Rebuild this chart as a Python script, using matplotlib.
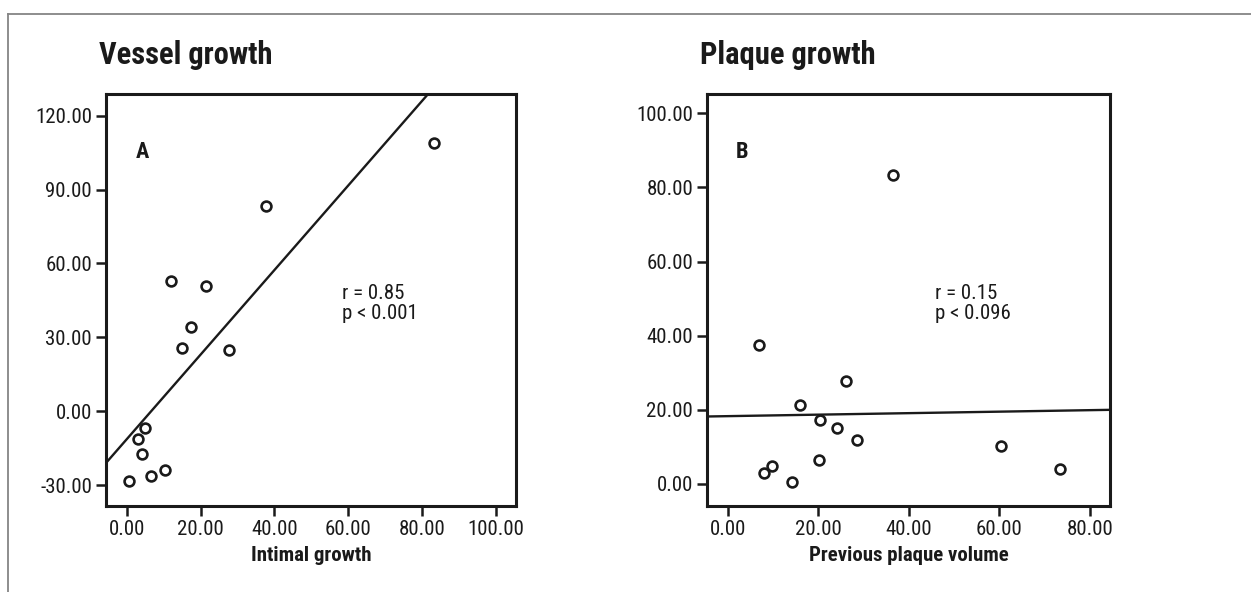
import numpy as np
import matplotlib
matplotlib.use("Agg")
import matplotlib.pyplot as plt
from matplotlib.lines import Line2D
import logging
logging.getLogger('matplotlib.font_manager').setLevel(logging.ERROR)

plt.rcParams['font.family'] = ['Roboto Condensed', 'Archivo Narrow', 'PT Sans Narrow',
                               'Liberation Sans Narrow', 'Barlow Semi Condensed', 'Liberation Sans']

# Panel A: Vessel growth vs Intimal growth
intimal_growth = [83.2, 37.6, 12.0, 21.5, 17.3, 15.0, 27.8, 5.0, 3.1, 4.1, 10.3, 6.5, 0.5]
vessel_growth = [108.9, 83.2, 52.7, 50.8, 34.3, 25.5, 24.9, -7.0, -11.4, -17.4, -24.0, -26.4, -28.4]
fit_a = (1.718, -11.4)  # slope, intercept as drawn

# Panel B: Plaque growth vs Previous plaque volume
prev_plaque = [36.5, 6.9, 26.1, 15.9, 20.4, 24.1, 28.5, 20.2, 9.7, 8.1, 14.3, 60.4, 73.4]
plaque_growth = [83.3, 37.6, 27.8, 21.3, 17.3, 15.1, 11.9, 6.4, 4.9, 2.9, 0.5, 10.2, 4.0]
fit_b = (0.0202, 18.29)

xticks_a = [0, 20, 40, 60, 80, 100]
yticks_a = [-30, 0, 30, 60, 90, 120]
xticks_b = [0, 20, 40, 60, 80]
yticks_b = [0, 20, 40, 60, 80, 100]

W, H = 1251, 592
fig = plt.figure(figsize=(W / 100, H / 100), dpi=100)

def axrect(l, t, r, b):
    return [l / W, 1 - b / H, (r - l) / W, (b - t) / H]

ax1 = fig.add_axes(axrect(106, 94, 516, 506))
ax2 = fig.add_axes(axrect(707, 94, 1110, 506))

def style(ax, x, y, fit, xlim, ylim, xt, yt, xlabel, letter, rtxt, ptxt, txtpos):
    ax.scatter(x, y, s=50, facecolors='white', edgecolors='#1a1a1a', linewidths=1.9, zorder=3)
    xs = np.array(xlim)
    ax.plot(xs, fit[0] * xs + fit[1], color='#1a1a1a', lw=1.7, zorder=2)
    ax.set_xlim(xlim)
    ax.set_ylim(ylim)
    ax.set_xticks(xt)
    ax.set_yticks(yt)
    ax.set_xticklabels([f"{v:.2f}" for v in xt])
    ax.set_yticklabels([f"{v:.2f}" for v in yt])
    ax.tick_params(direction='out', length=7, width=1.8, labelsize=15, colors='#1a1a1a', pad=3)
    for s in ax.spines.values():
        s.set_linewidth(2.2)
        s.set_color('#1a1a1a')
    ax.set_xlabel(xlabel, fontsize=15, fontweight='bold', color='#1a1a1a', labelpad=5)
    ax.text(0.072, 0.86, letter, transform=ax.transAxes, fontsize=16, fontweight='bold',
            color='#1a1a1a', va='center', ha='left')
    ax.text(txtpos[0], txtpos[1], rtxt + "\n" + ptxt, transform=ax.transAxes, fontsize=15,
            color='#1a1a1a', va='top', ha='left', linespacing=1.1)

style(ax1, intimal_growth, vessel_growth, fit_a, (-5.6, 105.4), (-38.5, 128.8),
      xticks_a, yticks_a, 'Intimal growth', 'A', 'r = 0.85', 'p < 0.001', (0.575, 0.54))
style(ax2, prev_plaque, plaque_growth, fit_b, (-4.54, 84.4), (-5.95, 105.2),
      xticks_b, yticks_b, 'Previous plaque volume', 'B', 'r = 0.15', 'p < 0.096', (0.565, 0.54))

fig.text(99 / W, 1 - 55 / H, 'Vessel growth', fontsize=22, fontweight='bold', color='#1a1a1a', va='center')
fig.text(700 / W, 1 - 55 / H, 'Plaque growth', fontsize=22, fontweight='bold', color='#1a1a1a', va='center')

# frame lines (top and left)
fig.add_artist(Line2D([8 / W, 1.0], [1 - 13.5 / H, 1 - 13.5 / H], transform=fig.transFigure,
                      color='#858585', lw=1.3))
fig.add_artist(Line2D([8 / W, 8 / W], [1 - 13.5 / H, 0], transform=fig.transFigure,
                      color='#858585', lw=1.3))

fig.savefig('out.png', dpi=100)
